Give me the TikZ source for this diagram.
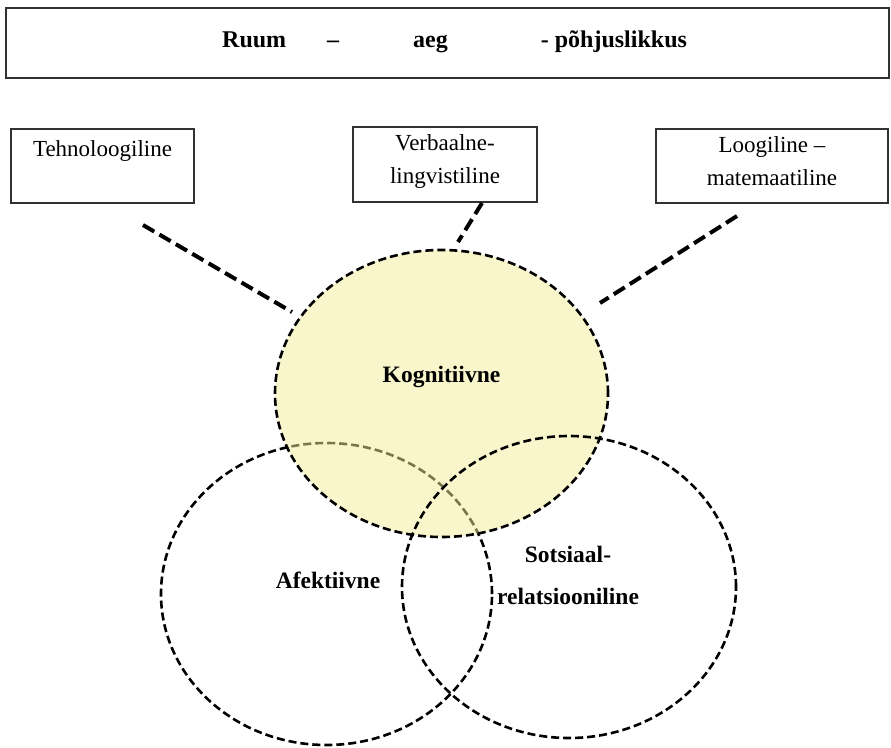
\documentclass[tikz,border=0pt]{standalone}
\usepackage{fontspec}
\setmainfont{Liberation Serif}
\usetikzlibrary{shapes.geometric}
\definecolor{kogfill}{RGB}{245,239,155}
\definecolor{boxline}{RGB}{50,50,50}
\begin{document}
\begin{tikzpicture}[x=1pt,y=-1pt,
  boxnode/.style={draw=boxline, line width=1.4pt, rectangle, inner sep=0pt},
  boxtext/.style={font=\fontsize{23}{33}\selectfont, align=center, inner sep=0pt},
  lab/.style={font=\bfseries\fontsize{23.5}{42}\selectfont, align=center, inner sep=0pt},
  ring/.style={ellipse, draw=black, line width=2.6pt, dash pattern=on 8pt off 4pt, inner sep=0pt},
  conn/.style={draw=black, line width=4pt, dash pattern=on 13pt off 6pt}]
\useasboundingbox (0,0) rectangle (891,747);
\fill[white] (0,0) rectangle (891,747);
% top box
\node[boxnode, line width=2pt, minimum width=883pt, minimum height=70pt] (top) at (447.5,42.5) {};
\node[anchor=base west, inner sep=0pt, font=\bfseries\fontsize{24}{28}\selectfont] (title) at (222,47)
  {Ruum\hspace{41pt}–\hspace{74pt}aeg\hspace{93pt}- põhjuslikkus};
% boxes
\node[boxnode, minimum width=183pt, minimum height=74pt] (tech) at (102.5,166) {};
\node[boxtext] (techt) at (102.5,151) {Tehnoloogiline};
\node[boxnode, minimum width=184pt, minimum height=75pt] (verb) at (445,164.5) {};
\node[boxtext] (verbt) at (445,161) {Verbaalne-\\lingvistiline};
\node[boxnode, minimum width=232pt, minimum height=74pt] (loog) at (772,166) {};
\node[boxtext] (loogt) at (772,161) {Loogiline –\\matemaatiline};
% circles
\node[ring, minimum width=331pt, minimum height=302pt] (afe) at (326.5,594) {};
\node[ring, fill=kogfill, fill opacity=0.5, draw opacity=1, minimum width=333pt, minimum height=287pt] (kog) at (441.5,393.5) {};
\node[ring, minimum width=334pt, minimum height=302pt] (sot) at (569,587) {};
% labels
\node[lab] (kogt) at (441.5,377) {Kognitiivne};
\node[lab] (afet) at (328,580) {Afektiivne};
\node[lab] (sott) at (568,575) {Sotsiaal-\\relatsiooniline};
% connectors
\coordinate (t1) at (143,225);
\coordinate (t2) at (292,312);
\coordinate (v1) at (482,203);
\coordinate (v2) at (458,242);
\coordinate (l1) at (737,216);
\coordinate (l2) at (600,303);
\draw[conn] (t1) -- (t2);
\draw[conn] (v1) -- (v2);
\draw[conn] (l1) -- (l2);
\end{tikzpicture}
\end{document}
